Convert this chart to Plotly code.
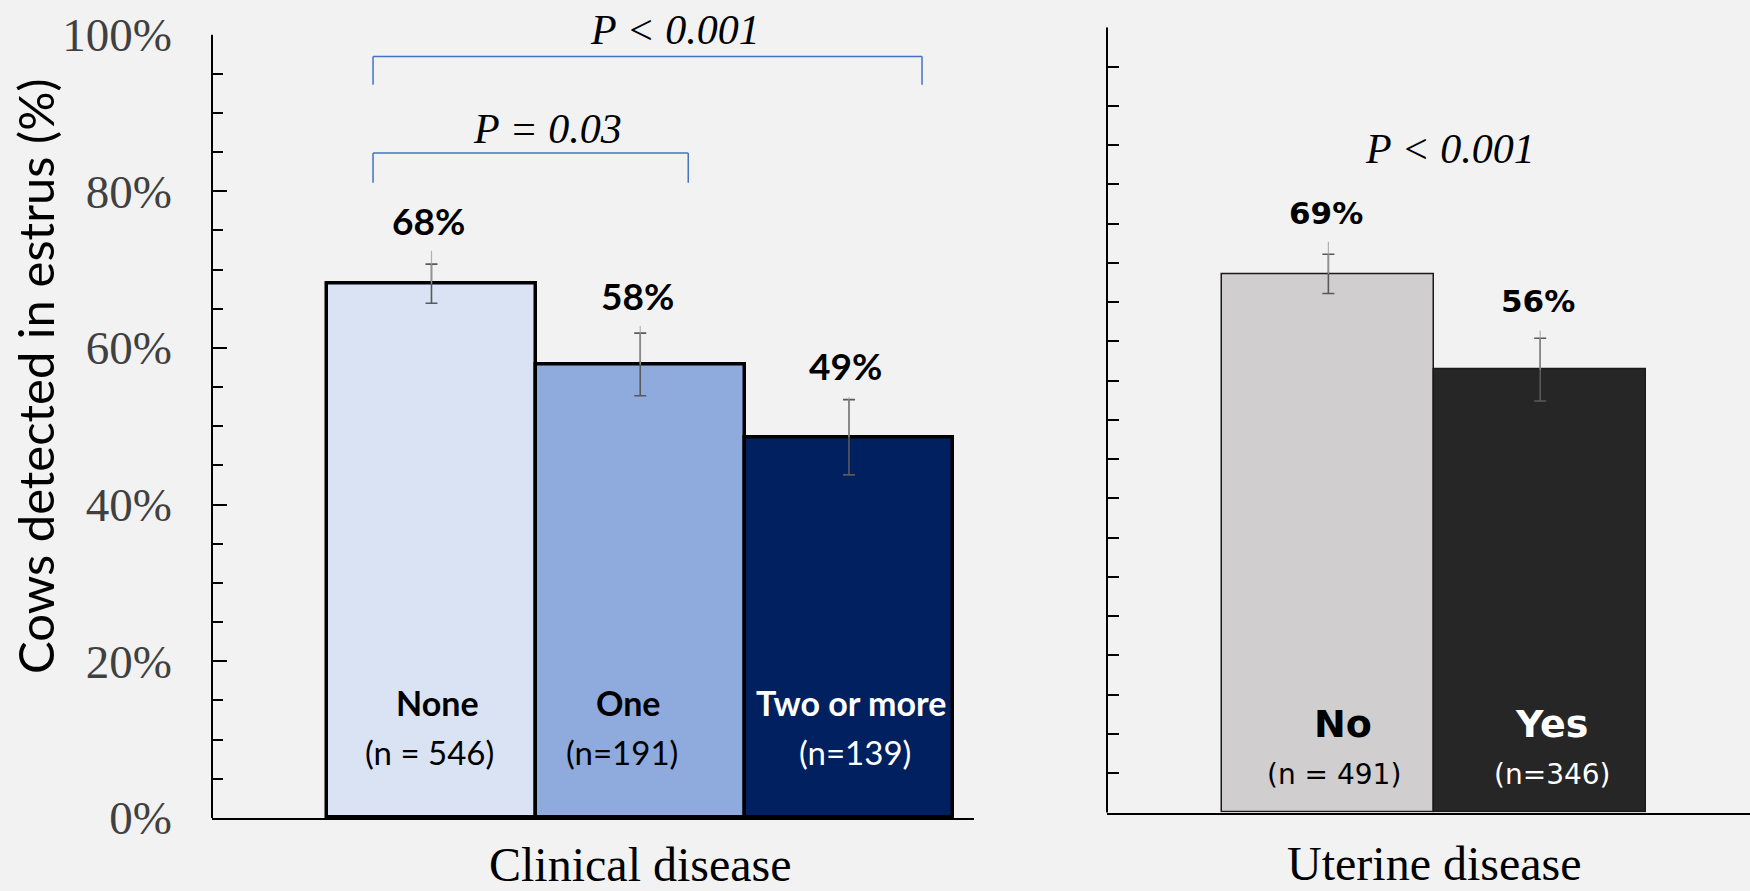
import plotly.graph_objects as go

# ---- data ----
clin_cats = ["None", "One", "Two or more"]
clin_n = ["(n = 546)", "(n=191)", "(n=139)"]
clin_vals = [68.2, 57.9, 48.6]
clin_err = [2.5, 4.0, 4.8]
clin_err_faint = [4.2, 4.9, 5.1]   # faint upper whisker seen above each cap
clin_labels = ["68%", "58%", "49%"]

ut_cats = ["No", "Yes"]
ut_n = ["(n = 491)", "(n=346)"]
ut_vals = [68.6, 56.4]
ut_err = [2.5, 4.0]
ut_err_faint = [4.1, 5.0]
ut_labels = ["69%", "56%"]

p_clin_all = "P < 0.001"
p_clin_one = "P = 0.03"
p_ut = "P < 0.001"

y_ticks = [0, 20, 40, 60, 80, 100]

# ---- styles ----
clin_colors = ["#DAE3F3", "#8FAADC", "#002060"]
clin_text_colors = ["black", "black", "white"]
ut_colors = ["#D0CECE", "#262626"]
ut_text_colors = ["black", "white"]
bg = "#F2F2F2"
serif = "Liberation Serif"
sans_left = "Lato"
sans_right = "DejaVu Sans"

W, H = 1750, 891

fig = go.Figure()

fig.add_trace(go.Bar(
    x=clin_cats, y=clin_vals, width=1,
    marker=dict(color=clin_colors, line=dict(color="black", width=3.5)),
    error_y=dict(type="data", array=clin_err, color="#595959", thickness=1.6, width=6),
    xaxis="x", yaxis="y", showlegend=False, hoverinfo="skip",
))
fig.add_trace(go.Bar(
    x=ut_cats, y=ut_vals, width=1,
    marker=dict(color=ut_colors, line=dict(color="#1a1a1a", width=1.5)),
    error_y=dict(type="data", array=ut_err, color="#595959", thickness=1.6, width=6),
    xaxis="x2", yaxis="y2", showlegend=False, hoverinfo="skip",
))
# faint secondary whiskers
fig.add_trace(go.Scatter(
    x=clin_cats, y=clin_vals, mode="none",
    error_y=dict(type="data", array=clin_err_faint, arrayminus=[0] * len(clin_vals),
                 color="rgba(160,160,160,0.8)", thickness=1.2, width=0),
    xaxis="x", yaxis="y", showlegend=False, hoverinfo="skip",
))
fig.add_trace(go.Scatter(
    x=ut_cats, y=ut_vals, mode="none",
    error_y=dict(type="data", array=ut_err_faint, arrayminus=[0] * len(ut_vals),
                 color="rgba(160,160,160,0.8)", thickness=1.2, width=0),
    xaxis="x2", yaxis="y2", showlegend=False, hoverinfo="skip",
))

ann = []
# value labels
for c, v, e, t, ys in zip(clin_cats, clin_vals, clin_err, clin_labels, [44, 38, 34]):
    ann.append(dict(x=c, y=v + e, xref="x", yref="y", text="<b>%s</b>" % t, showarrow=False,
                    yanchor="middle", yshift=ys, xshift=-3,
                    font=dict(family=sans_left, size=37, color="black")))
for c, v, e, t, ys in zip(ut_cats, ut_vals, ut_err, ut_labels, [41, 37]):
    ann.append(dict(x=c, y=v + e, xref="x2", yref="y2", text="<b>%s</b>" % t, showarrow=False,
                    yanchor="middle", yshift=ys, xshift=-2,
                    font=dict(family=sans_right, size=31, color="black")))

# category labels inside bars
cat_xshift = [6, -12, 2]
n_xshift = [-2, -18, 6]
for c, nl, tc, xs, nxs in zip(clin_cats, clin_n, clin_text_colors, cat_xshift, n_xshift):
    ann.append(dict(x=c, y=14.7, xref="x", yref="y", text="<b>%s</b>" % c, showarrow=False,
                    yanchor="middle", xshift=xs,
                    font=dict(family=sans_left, size=34, color=tc)))
    ann.append(dict(x=c, y=8.4, xref="x", yref="y", text=nl, showarrow=False,
                    yanchor="middle", xshift=nxs,
                    font=dict(family=sans_left, size=33, color=tc)))
for c, nl, tc, xs, nxs in zip(ut_cats, ut_n, ut_text_colors, [15, 11], [6, 12]):
    ann.append(dict(x=c, y=11.3, xref="x2", yref="y2", text="<b>%s</b>" % c, showarrow=False,
                    yanchor="middle", xshift=xs,
                    font=dict(family=sans_right, size=38, color=tc)))
    ann.append(dict(x=c, y=4.9, xref="x2", yref="y2", text=nl, showarrow=False,
                    yanchor="middle", xshift=nxs,
                    font=dict(family=sans_right, size=28, color=tc)))

# P-value texts
pfont = dict(family=serif, size=42, color="black")
ann.append(dict(x=1.166, y=(H - 30) / H, xref="x", yref="paper", text="<i>%s</i>" % p_clin_all,
                showarrow=False, yanchor="middle", font=pfont))
ann.append(dict(x=0.558, y=87.9, xref="x", yref="y", text="<i>%s</i>" % p_clin_one,
                showarrow=False, yanchor="middle", font=pfont))
ann.append(dict(x=0.572, y=84.5, xref="x2", yref="y2", text="<i>%s</i>" % p_ut,
                showarrow=False, yanchor="middle", font=pfont))

# axis titles
ann.append(dict(x=35 / W, y=(H - 376) / H, xref="paper", yref="paper",
                text="Cows detected in estrus (%)", textangle=-90, showarrow=False,
                xanchor="center", yanchor="middle",
                font=dict(family=sans_left, size=49, color="black")))
ann.append(dict(x=640 / W, y=(H - 864) / H, xref="paper", yref="paper",
                text="Clinical disease", showarrow=False, xanchor="center", yanchor="middle",
                font=dict(family=serif, size=48, color="black")))
ann.append(dict(x=1434 / W, y=(H - 863) / H, xref="paper", yref="paper",
                text="Uterine disease", showarrow=False, xanchor="center", yanchor="middle",
                font=dict(family=serif, size=48, color="black")))

shapes = []
bl = dict(color="#4472C4", width=1.5)
for (x0, y0, x1, y1) in [(-0.28, 93.6, -0.28, 97.2), (-0.28, 97.2, 2.35, 97.2), (2.35, 97.2, 2.35, 93.6),
                         (-0.28, 81.1, -0.28, 84.9), (-0.28, 84.9, 1.23, 84.9), (1.23, 84.9, 1.23, 81.1)]:
    shapes.append(dict(type="line", xref="x", yref="y", x0=x0, y0=y0, x1=x1, y1=y1, line=bl))
shapes.append(dict(type="line", xref="x domain", yref="y", x0=0, x1=0, y0=-2, y1=100,
                   line=dict(color="black", width=2)))
shapes.append(dict(type="line", xref="x2 domain", yref="y2", x0=0, x1=0, y0=-1.8, y1=100,
                   line=dict(color="black", width=2)))

yax_common = dict(range=[0, 100], showgrid=False, zeroline=False, showline=False,
                  tickmode="array", tickvals=y_ticks, ticks="inside", ticklen=15,
                  tickwidth=2, tickcolor="black", automargin=False,
                  minor=dict(ticks="inside", ticklen=11, tickwidth=2, tickcolor="black", dtick=5, showgrid=False),
                  fixedrange=True)

fig.update_layout(
    width=W, height=H,
    margin=dict(l=0, r=0, t=0, b=0, autoexpand=False),
    paper_bgcolor=bg, plot_bgcolor=bg,
    bargap=0,
    xaxis=dict(domain=[212 / W, 974 / W], type="category", categoryarray=clin_cats,
               range=[-1.0515, 2.599], showline=True, linecolor="black", linewidth=1.5,
               showticklabels=False, ticks="", showgrid=False, zeroline=False, anchor="y",
               automargin=False, fixedrange=True),
    yaxis=dict(domain=[(H - 818) / H, (H - 34.6) / H], anchor="x",
               ticktext=["%d%%" % v for v in y_ticks],
               tickfont=dict(family=serif, size=47, color="#404040"),
               ticklabelstandoff=39, **yax_common),
    xaxis2=dict(domain=[1107 / W, 1.0], type="category", categoryarray=ut_cats,
                range=[-1.0453, 1.9906], showline=True, linecolor="black", linewidth=1.5,
                showticklabels=False, ticks="", showgrid=False, zeroline=False, anchor="y2",
                automargin=False, fixedrange=True),
    yaxis2=dict(domain=[(H - 812.5) / H, (H - 27.3) / H], anchor="x2",
                showticklabels=False, **{**yax_common, "tickvals": list(range(0, 101, 5)),
                                         "ticklen": 12, "minor": dict(ticks="")}),
    annotations=ann,
    shapes=shapes,
)

fig.write_html("out.html", config={"displayModeBar": False},
               post_script="document.body.style.margin='0';document.body.style.background='%s';" % bg)
